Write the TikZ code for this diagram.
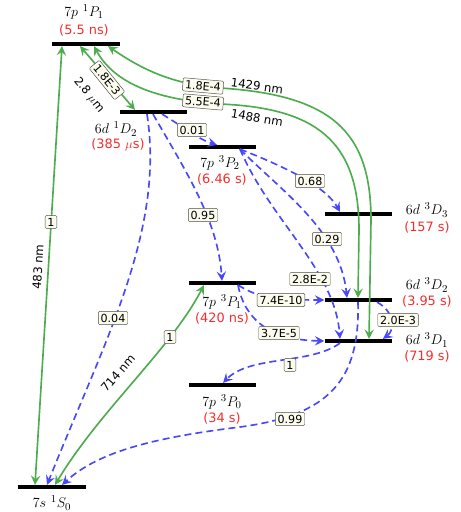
\documentclass[tikz,border=0pt]{standalone}
\usepackage{fontspec}
\setmainfont{DejaVu Sans}
\usepackage{tikz}
\usetikzlibrary{arrows.meta, calc}

\definecolor{greenline}{RGB}{77,172,77}
\definecolor{blueline}{RGB}{72,72,250}
\definecolor{lifered}{RGB}{245,45,45}
\definecolor{boxfill}{RGB}{252,252,238}

\begin{document}
\begin{tikzpicture}[
  x=0.03cm, y=-0.03cm,
  level/.style={fill=black, inner sep=0pt, minimum width=2.01cm, minimum height=3.2pt},
  lvname/.style={font=\fontsize{12.5}{14}\selectfont, inner sep=0pt},
  lvlife/.style={font=\fontsize{11}{13}\selectfont, text=lifered, inner sep=0pt},
  excite/.style={greenline, line width=1.4pt, {Stealth[length=8pt, width=8pt, inset=3pt]}-{Stealth[length=8pt, width=8pt, inset=3pt]}},
  decay/.style={blueline, line width=1.4pt, dash pattern=on 6pt off 3.5pt, -{Stealth[length=8pt, width=8pt, inset=3pt]}},
  rate/.style={draw=black!70, fill=boxfill, rounded corners=1pt, inner xsep=2pt, inner ysep=2pt, font=\fontsize{9.5}{11}\selectfont},
  wave/.style={font=\fontsize{10}{12}\selectfont, inner sep=0pt},
]
  \useasboundingbox (0,0) rectangle (461,512);

  % ── Levels ──
  \foreach \lv/\x/\y in {P1/86/44, D12/153/112, P2/222/147, D3/358/214, P31/222/283,
                         D2/358/300, D1/358/341, P0/222/385, S0/52/487}
    \node[level] (\lv) at (\x,\y) {};

  % ── Level names and lifetimes ──
  \node[lvname] (P1name) at (84,12) {$7p\ {}^{1}P_{1}$};
  \node[lvlife] (P1life) at (84,30) {(5.5 ns)};
  \node[lvname] (D12name) at (116,129) {$6d\ {}^{1}D_{2}$};
  \node[lvlife] (D12life) at (118,145) {(385 $\mu$s)};
  \node[lvname] (P2name) at (220,163) {$7p\ {}^{3}P_{2}$};
  \node[lvlife] (P2life) at (222,179) {(6.46 s)};
  \node[lvname] (D3name) at (427,210) {$6d\ {}^{3}D_{3}$};
  \node[lvlife] (D3life) at (427,227) {(157 s)};
  \node[lvname] (P31name) at (222,302) {$7p\ {}^{3}P_{1}$};
  \node[lvlife] (P31life) at (222,318) {(420 ns)};
  \node[lvname] (D2name) at (427,285) {$6d\ {}^{3}D_{2}$};
  \node[lvlife] (D2life) at (427,301) {(3.95 s)};
  \node[lvname] (D1name) at (427,340) {$6d\ {}^{3}D_{1}$};
  \node[lvlife] (D1life) at (427,356) {(719 s)};
  \node[lvname] (P0name) at (222,402) {$7p\ {}^{3}P_{0}$};
  \node[lvlife] (P0life) at (222,418) {(34 s)};
  \node[lvname] (S0name) at (52,503) {$7s\ {}^{1}S_{0}$};

  % ── Laser transitions ──
  \draw[excite] ($(S0.north)+(-17,0)$) -- ($(P1.south)+(-24,0)$);
  \draw[excite] ($(S0.north)+(3,0)$) .. controls (100,410) and (170,350) .. ($(P31.south)+(-18,0)$);
  \draw[excite] ($(P1.south)+(-6,0)$) -- ($(D12.north)+(-18,0)$);
  \draw[excite] ($(P1.south)+(22,0)$) .. controls (140,68) and (170,84) .. (220,88)
    .. controls (330,95) and (371,130) .. (371,220) -- ($(D1.north)+(11,0)$);
  \draw[excite] ($(P1.south)+(8,0)$) .. controls (115,85) and (160,100) .. (220,104)
    .. controls (315,108) and (359,140) .. (359,230) -- (D2.north);

  % ── Decays ──
  \draw[decay] ($(D12.south)+(9,0)$) .. controls (185,128) and (200,140) .. ($(P2.north)+(-5,0)$);
  \draw[decay] (D12.south) .. controls (185,170) and (218,220) .. (P31.north);
  \draw[decay] ($(D12.south)+(-6,0)$) .. controls (165,230) and (105,340) .. ($(S0.north)+(-5,0)$);
  \draw[decay] ($(P2.south)+(18,0)$) .. controls (280,165) and (325,185) .. ($(D3.north)+(-18,0)$);
  \draw[decay] ($(P2.south)+(18,0)$) .. controls (280,190) and (340,230) .. ($(D2.north)+(-11,0)$);
  \draw[decay] ($(P2.south)+(18,0)$) .. controls (270,220) and (335,270) .. ($(D1.north)+(-18,0)$);
  \draw[decay] ($(P31.south)+(16,0)$) .. controls (255,295) and (265,300) .. (D2.west);
  \draw[decay] ($(P31.south)+(16,0)$) .. controls (245,320) and (270,340) .. (D1.west);
  \draw[decay] ($(D2.south)+(19,0)$) .. controls (395,312) and (395,330) .. ($(D1.north)+(25,0)$);
  \draw[decay] ($(D1.south)+(-18,0)$) .. controls (310,365) and (250,355) .. ($(P0.north)+(1,0)$);
  \draw[decay] (D2.south) .. controls (360,380) and (330,415) .. (240,427)
    .. controls (160,437) and (100,450) .. ($(S0.north)+(10,0)$);

  % ── Wavelengths ──
  \node[wave, rotate=86.5] (w483) at (38,267) {483 nm};
  \node[wave, rotate=49] (w714) at (118,373) {714 nm};
  \node[wave, rotate=-51] (w28) at (89,95) {2.8 $\mu$m};
  \node[wave, rotate=-8] (w1429) at (257,86) {1429 nm};
  \node[wave, rotate=-10] (w1488) at (257,118) {1488 nm};

  % ── Branching ratios ──
  \node[rate] (r483) at (51,222) {1};
  \node[rate] (r714) at (170,337) {1};
  \node[rate, rotate=-51] (r28) at (107,80) {1.8E-3};
  \node[rate, rotate=-5] (r1429) at (203,86) {1.8E-4};
  \node[rate, rotate=-5] (r1488) at (203,102) {5.5E-4};
  \node[rate] (rD12P2) at (192,130) {0.01};
  \node[rate] (rD12P31) at (203,215) {0.95};
  \node[rate] (rD12S0) at (113,318) {0.04};
  \node[rate] (rP2D3) at (310,181) {0.68};
  \node[rate] (rP2D2) at (327,239) {0.29};
  \node[rate] (rP2D1) at (310,279) {2.8E-2};
  \node[rate] (rP31D2) at (281,300) {7.4E-10};
  \node[rate] (rP31D1) at (279,333) {3.7E-5};
  \node[rate] (rD2D1) at (398,320) {2.0E-3};
  \node[rate] (rD1P0) at (290,365) {1};
  \node[rate] (rD2S0) at (290,419) {0.99};

\end{tikzpicture}
\end{document}
